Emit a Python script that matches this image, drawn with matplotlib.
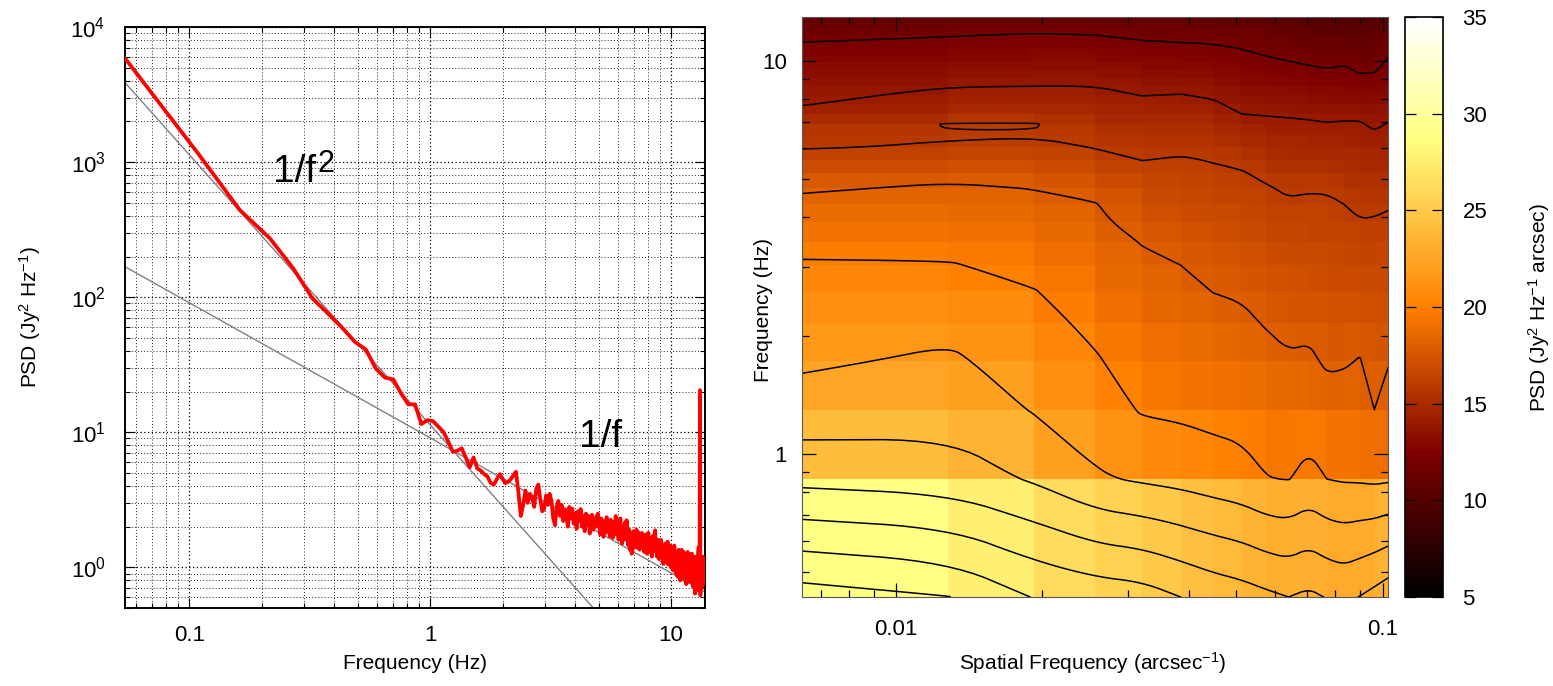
import numpy as np
import matplotlib
matplotlib.use("Agg")
import matplotlib.pyplot as plt
from matplotlib import ticker
from matplotlib.colors import LinearSegmentedColormap
import contourpy

plt.rcParams["font.family"] = ["Liberation Sans", "DejaVu Sans"]
plt.rcParams["mathtext.fontset"] = "custom"
plt.rcParams["mathtext.rm"] = "Liberation Sans"
plt.rcParams["mathtext.it"] = "Liberation Sans:italic"
plt.rcParams["mathtext.bf"] = "Liberation Sans:bold"
plt.rcParams["mathtext.default"] = "regular"

# ---------------------------------------------------------------- data
# temporal power spectrum, one value per FFT bin (bin width df_time)
df_time = 0.054
psd_time = [
    5866, 1173, 441, 272, 163, 98, 75, 59, 46.7, 41.0,
    29.6, 25.4, 24.6, 19.4, 16.1, 16.1, 11.5, 12.3, 12.1, 11.0,
    10.05, 8.5, 7.15, 7.3, 7.6, 6.5, 5.5, 6.5, 5.4, 5.2,
    4.9, 4.7, 4.2, 4.1, 4.5, 4.9, 4.5, 4.2, 4.3, 4.5,
    4.8, 5.1, 3.6, 2.4, 2.9, 3.7, 3.0, 3.5, 3.3, 2.8,
    3.8, 4.1, 3.2, 2.6, 2.7, 3.4, 2.9, 3.5, 3.1, 2.3,
    2.05, 2.8, 3.1, 2.4, 2.9, 2.2, 2.7, 2.36, 2.0, 2.8,
    2.3, 2.72, 2.1, 2.5, 1.93, 2.6, 2.2, 2.7, 2.0, 2.4,
    1.85, 2.5, 2.1, 2.4, 1.78, 2.2, 2.45, 1.9, 2.3, 2.0,
    2.4, 2.5, 2.05, 1.75, 2.3, 1.9, 1.68, 2.2, 1.8, 2.35,
    1.85, 2.1, 1.7, 2.25, 1.9, 1.65, 2.15, 1.8, 2.4, 1.75,
    2.05, 1.6, 1.95, 2.3, 1.7, 1.5, 2.0, 1.75, 2.15, 1.6,
    2.23, 1.8, 1.45, 1.9, 1.35, 1.7, 1.26, 1.6, 1.85, 1.4,
    1.75, 1.5, 1.9, 1.4, 1.83, 1.55, 1.35, 1.7, 1.45, 1.8,
    1.4, 1.65, 1.3, 1.55, 1.75, 1.35, 1.26, 1.6, 1.8, 1.4,
    1.3, 1.65, 1.5, 1.2, 1.7, 1.45, 1.35, 1.75, 1.88, 1.3,
    1.5, 1.2, 1.6, 1.35, 1.15, 1.5, 1.3, 1.6, 1.25, 1.45,
    1.15, 1.06, 1.4, 1.25, 1.5, 1.1, 1.35, 1.2, 1.55, 1.05,
    1.3, 1.15, 1.45, 1.25, 1.0, 1.35, 1.1, 1.4, 0.95, 1.25,
    1.45, 1.05, 1.2, 0.9, 1.3, 1.1, 0.85, 1.25, 1.35, 0.95,
    1.1, 0.8, 1.2, 0.9, 1.35, 1.0, 0.85, 1.15, 1.3, 0.9,
    0.8, 1.2, 1.05, 0.75, 1.1, 0.95, 1.3, 0.85, 1.0, 1.2,
    0.78, 1.05, 0.9, 1.25, 0.8, 1.26, 0.95, 0.72, 1.1, 1.2,
    0.85, 1.1, 0.64, 0.9, 1.2, 0.75, 1.0, 0.68, 1.05, 1.3,
    1.41, 0.8, 0.7, 20.5, 0.62, 1.2, 0.9, 0.7, 1.1, 0.85,
    1.2, 0.75, 0.95, 1.15, 0.8, 1.13,
]
# power-law reference amplitudes (value at 1 Hz)
amp_red = 11.3     # 1/f^2
amp_pink = 9.08    # 1/f

# 2-D spectrum: spatial-frequency bins (columns) x temporal-frequency bins
df_spatial = 0.00641
df_temporal = 0.432
# each inner list is one spatial bin, temporal bins from low to high
psd_map_cols = [
    [32.9, 25.44, 22.88, 21.69, 21.07, 20.57, 20.15, 19.56, 18.94, 18.38, 17.81, 17.12, 16.47, 15.91, 15.35,
     14.84, 14.37, 13.94, 13.66, 13.38, 13.13, 12.88, 12.63, 12.41, 12.19, 11.97, 11.7, 11.4, 11.1, 10.8],
    [32.05, 25.07, 23.19, 22.31, 21.49, 20.73, 20.1, 19.53, 19.04, 18.59, 18.2, 17.6, 16.8, 16.11, 15.9,
     16.1, 14.93, 14.59, 14.28, 13.96, 13.65, 13.35, 13.04, 12.77, 12.5, 12.23, 11.9, 11.55, 11.2, 10.85],
    [29.9, 23.76, 21.88, 21.12, 20.54, 20.06, 19.55, 19.08, 18.67, 18.31, 17.96, 17.38, 16.85, 16.38, 15.9,
     16.1, 15.1, 14.71, 14.35, 14.0, 13.71, 13.43, 13.14, 12.89, 12.64, 12.39, 12.1, 11.75, 11.4, 11.05],
    [29.2, 22.23, 20.95, 20.15, 19.62, 19.21, 18.87, 18.57, 18.3, 18.07, 17.56, 16.96, 16.4, 15.94, 15.56,
     15.21, 14.89, 14.57, 14.29, 14.0, 13.7, 13.4, 13.09, 12.83, 12.57, 12.3, 12.0, 11.65, 11.3, 10.95],
    [28.9, 21.74, 19.83, 19.29, 18.87, 18.52, 18.23, 17.95, 17.48, 17.05, 16.67, 16.31, 15.97, 15.59, 15.22,
     14.88, 14.56, 14.25, 13.96, 13.64, 13.36, 13.07, 12.79, 12.54, 12.29, 12.04, 11.75, 11.45, 11.1, 10.75],
    [28.0, 21.42, 19.66, 19.1, 18.66, 18.31, 18.0, 17.6, 17.24, 16.91, 16.62, 16.35, 16.09, 15.77, 15.37,
     15.0, 14.67, 14.33, 14.03, 13.69, 13.38, 13.08, 12.77, 12.5, 12.23, 11.96, 11.65, 11.35, 11.0, 10.65],
    [27.3, 21.0, 19.44, 18.83, 18.37, 17.98, 17.59, 17.24, 16.93, 16.66, 16.41, 16.18, 15.94, 15.55, 15.16,
     14.81, 14.48, 14.16, 13.85, 13.53, 13.24, 12.95, 12.65, 12.4, 12.15, 11.89, 11.6, 11.3, 10.95, 10.6],
    [26.9, 20.67, 19.35, 18.74, 18.26, 17.85, 17.46, 17.12, 16.82, 16.55, 16.31, 16.09, 15.7, 15.25, 14.79,
     14.38, 14.0, 13.69, 13.42, 13.14, 12.89, 12.65, 12.4, 12.18, 11.97, 11.75, 11.5, 11.2, 10.9, 10.55],
    [26.4, 20.05, 19.08, 18.42, 17.9, 17.49, 17.14, 16.82, 16.55, 16.31, 16.09, 15.75, 15.32, 14.95, 14.58,
     14.25, 13.93, 13.6, 13.3, 13.0, 12.73, 12.47, 12.2, 11.97, 11.73, 11.5, 11.25, 10.95, 10.65, 10.3],
    [26.0, 19.94, 18.89, 18.14, 17.63, 17.24, 16.9, 16.61, 16.36, 16.13, 15.84, 15.45, 15.09, 14.78, 14.47,
     14.18, 13.89, 13.54, 13.21, 12.89, 12.61, 12.32, 12.04, 11.79, 11.54, 11.29, 11.0, 10.7, 10.4, 10.05],
    [26.4, 20.59, 19.06, 18.24, 17.69, 17.29, 16.95, 16.66, 16.4, 16.17, 15.92, 15.5, 15.11, 14.78, 14.44,
     14.14, 13.81, 13.44, 13.11, 12.78, 12.48, 12.19, 11.89, 11.63, 11.37, 11.11, 10.8, 10.5, 10.2, 9.85],
    [25.9, 19.98, 18.6, 17.8, 17.39, 17.06, 16.79, 16.54, 16.33, 16.14, 15.91, 15.48, 15.07, 14.72, 14.38,
     14.06, 13.7, 13.32, 12.98, 12.64, 12.34, 12.04, 11.74, 11.47, 11.21, 10.94, 10.65, 10.35, 10.05, 9.7],
    [25.6, 19.81, 18.63, 17.86, 17.4, 17.04, 16.73, 16.45, 16.21, 16.0, 15.62, 15.26, 14.93, 14.64, 14.36,
     14.1, 13.78, 13.42, 13.09, 12.76, 12.47, 12.18, 11.89, 11.64, 11.38, 11.13, 10.85, 10.55, 10.25, 9.9],
    [26.05, 19.79, 18.78, 18.06, 17.51, 17.06, 16.69, 16.36, 16.07, 15.73, 15.41, 15.1, 14.82, 14.57, 14.33,
     14.1, 13.78, 13.33, 12.93, 12.53, 12.18, 11.84, 11.52, 11.24, 10.96, 10.68, 10.4, 10.1, 9.8, 9.5],
    [26.6, 19.66, 18.0, 17.5, 17.11, 16.8, 16.53, 16.3, 16.09, 15.79, 15.4, 15.05, 14.71, 14.43, 14.14,
     13.82, 13.46, 13.11, 12.79, 12.46, 12.18, 11.89, 11.61, 11.36, 11.11, 10.86, 10.6, 10.3, 10.0, 9.7],
    [27.2, 19.77, 18.65, 17.89, 17.42, 17.03, 16.71, 16.42, 16.17, 15.91, 15.53, 15.19, 14.86, 14.58, 14.3,
     14.05, 13.75, 13.45, 13.17, 12.89, 12.65, 12.4, 12.15, 11.94, 11.72, 11.5, 11.25, 10.95, 10.65, 10.3],
]
contour_levels = [12, 14, 16, 18, 20, 22, 24, 26, 28, 30, 32]
cbar_ticks = [5, 10, 15, 20, 25, 30, 35]

# ---------------------------------------------------------------- figure
W, H = 1553, 686
fig = plt.figure(figsize=(W / 100, H / 100), dpi=100)


def frac(x0, y0, x1, y1):
    return [x0 / W, 1 - y1 / H, (x1 - x0) / W, (y1 - y0) / H]


# ---------------- left: temporal PSD
ax1 = fig.add_axes(frac(125, 27, 705, 608))
psd_time = np.asarray(psd_time, dtype=float)
freq = df_time * np.arange(1, len(psd_time) + 1)

ax1.set_xscale("log")
ax1.set_yscale("log")
ax1.set_axisbelow(True)
ax1.grid(True, which="major", color="k", ls=(0, (1, 2.0)), lw=0.9)
ax1.grid(True, which="minor", color="0.15", ls=(0, (1, 2.2)), lw=0.7)

ax1.plot(freq, amp_red / freq ** 2, color="#808080", lw=1.0, zorder=2)
ax1.plot(freq, amp_pink / freq, color="#808080", lw=1.0, zorder=2)
ax1.plot(freq, psd_time, color="#ff0000", lw=2.7, zorder=3)

ax1.set_xlim(freq[0], freq[-1])
ax1.set_ylim(0.5, 1e4)

ax1.xaxis.set_major_locator(ticker.FixedLocator([0.1, 1, 10]))
ax1.xaxis.set_major_formatter(ticker.FuncFormatter(lambda v, p: f"{v:g}"))
ax1.xaxis.set_minor_locator(ticker.LogLocator(base=10, subs=np.arange(2, 10), numticks=20))
ax1.xaxis.set_minor_formatter(ticker.NullFormatter())
ax1.yaxis.set_major_locator(ticker.FixedLocator([1, 10, 100, 1000, 10000]))
ax1.yaxis.set_major_formatter(
    ticker.FuncFormatter(lambda v, p: r"$10^{%d}$" % int(round(np.log10(v)))))
ax1.yaxis.set_minor_locator(ticker.LogLocator(base=10, subs=np.arange(2, 10), numticks=20))
ax1.yaxis.set_minor_formatter(ticker.NullFormatter())

ax1.tick_params(which="both", direction="in", top=True, right=True,
                color="k", width=0.8, labelsize=16)
ax1.tick_params(which="major", length=7)
ax1.tick_params(which="minor", length=3.5)
ax1.tick_params(axis="x", pad=12)
ax1.tick_params(axis="y", pad=14)
for s in ax1.spines.values():
    s.set_linewidth(1.4)

ax1.set_xlabel("Frequency (Hz)", fontsize=15)
ax1.xaxis.set_label_coords(0.5, -0.08)
ax1.set_ylabel(r"PSD (Jy$^{2}$ Hz$^{-1}$)", fontsize=15)
ax1.yaxis.set_label_coords(-0.142, 0.5)

ax1.text(0.2232, 711, "1/f", fontsize=28, ha="left", va="baseline")
ax1.text(0.3398, 844, "2", fontsize=22, ha="left", va="baseline")
ax1.text(5.08, 7.74, "1/f", fontsize=28, ha="center", va="baseline")

# ---------------- right: 2-D PSD map
ax2 = fig.add_axes(frac(802, 17, 1388, 597))
cax = fig.add_axes(frac(1405, 17, 1443, 597))

Z = np.asarray(psd_map_cols, dtype=float).T          # rows: temporal, cols: spatial
kx = df_spatial * np.arange(1, Z.shape[1] + 1)
ky = df_temporal * np.arange(1, Z.shape[0] + 1)
cells = 0.25 * (Z[:-1, :-1] + Z[1:, :-1] + Z[:-1, 1:] + Z[1:, 1:])

cmap = LinearSegmentedColormap.from_list(
    "psd_heat",
    [(0.0, "#000000"), (0.25, "#800000"), (0.5, "#ff8000"),
     (0.79, "#ffff80"), (1.0, "#ffffff")])

mesh = ax2.pcolormesh(kx, ky, cells, cmap=cmap, vmin=5, vmax=35,
                      shading="flat", edgecolors="none", antialiased=False)
ax2.set_xscale("log")
ax2.set_yscale("log")
ax2.set_xlim(kx[0], kx[-1])
ax2.set_ylim(ky[0], ky[-1])


def chaikin(pts, n_iter, closed):
    for _ in range(n_iter):
        if closed:
            p = pts[:-1]
            q = np.roll(p, -1, axis=0)
            new = np.empty((2 * len(p), 2))
            new[0::2] = 0.75 * p + 0.25 * q
            new[1::2] = 0.25 * p + 0.75 * q
            pts = np.vstack([new, new[:1]])
        else:
            p, q = pts[:-1], pts[1:]
            new = np.empty((2 * len(p), 2))
            new[0::2] = 0.75 * p + 0.25 * q
            new[1::2] = 0.25 * p + 0.75 * q
            pts = np.vstack([pts[:1], new, pts[-1:]])
    return pts


# contour lines traced in log space and smoothed before drawing
gen = contourpy.contour_generator(np.log10(kx), np.log10(ky), Z)
for lev in contour_levels:
    for seg in gen.lines(lev):
        if len(seg) < 2:
            continue
        closed = np.allclose(seg[0], seg[-1])
        sm = chaikin(seg, 3, closed)
        ax2.plot(10 ** sm[:, 0], 10 ** sm[:, 1], color="k", lw=1.1,
                 solid_capstyle="round")

ax2.xaxis.set_major_locator(ticker.FixedLocator([0.01, 0.1]))
ax2.xaxis.set_major_formatter(ticker.FuncFormatter(lambda v, p: f"{v:g}"))
ax2.xaxis.set_minor_locator(ticker.LogLocator(base=10, subs=np.arange(2, 10), numticks=20))
ax2.xaxis.set_minor_formatter(ticker.NullFormatter())
ax2.yaxis.set_major_locator(ticker.FixedLocator([1, 10]))
ax2.yaxis.set_major_formatter(ticker.FuncFormatter(lambda v, p: f"{v:g}"))
ax2.yaxis.set_minor_locator(ticker.LogLocator(base=10, subs=np.arange(2, 10), numticks=20))
ax2.yaxis.set_minor_formatter(ticker.NullFormatter())
ax2.tick_params(which="both", direction="in", top=True, right=True,
                color="k", width=0.9, labelsize=16)
ax2.tick_params(which="major", length=10)
ax2.tick_params(which="minor", length=5)
ax2.tick_params(axis="x", pad=16)
ax2.tick_params(axis="y", pad=11)
for s in ax2.spines.values():
    s.set_linewidth(0.8)
    s.set_color("0.35")

ax2.set_xlabel(r"Spatial Frequency (arcsec$^{-1}$)", fontsize=15)
ax2.xaxis.set_label_coords(0.497, -0.092)
ax2.set_ylabel("Frequency (Hz)", fontsize=15)
ax2.yaxis.set_label_coords(-0.05, 0.495)

cbar = fig.colorbar(mesh, cax=cax, ticks=cbar_ticks)
cbar.outline.set_linewidth(1.2)
cbar.outline.set_edgecolor("k")
cax.tick_params(which="major", direction="in", left=True, right=True,
                length=8, width=0.9, color="k", labelsize=16, pad=14)
cax.minorticks_off()
cbar.set_label(r"PSD (Jy$^{2}$ Hz$^{-1}$ arcsec)", fontsize=15)
cax.yaxis.set_label_coords(3.2, 0.5)

fig.savefig("out.png", dpi=100)
